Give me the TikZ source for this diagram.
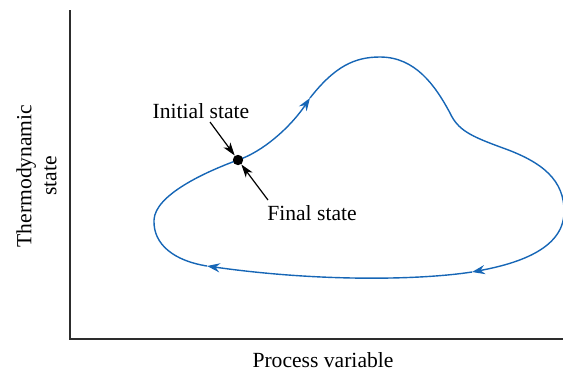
\documentclass[tikz,border=0pt]{standalone}
\usepackage{fontspec}
\setmainfont{Liberation Serif}
\usetikzlibrary{arrows.meta}
\definecolor{curveblue}{RGB}{22,102,182}
\definecolor{axisgray}{RGB}{45,45,45}
\tikzset{
  lbl/.style={inner sep=0pt, font=\fontsize{10.8}{12.5}\selectfont},
  cyc/.style={curveblue, line width=0.7pt, -{Stealth[length=6.5pt,width=4.6pt,inset=2.2pt]}},
  cycplain/.style={curveblue, line width=0.7pt},
  pointer/.style={black, line width=0.6pt, -{Stealth[length=6.5pt,width=4.2pt,inset=1.8pt]}},
  axis/.style={axisgray, line width=0.9pt}
}
\begin{document}
\begin{tikzpicture}[x=0.5pt,y=-0.5pt]
\useasboundingbox (0,0) rectangle (563,371);
% axes
\coordinate (ytop) at (70,10);
\coordinate (orig) at (70,339);
\coordinate (xend) at (563,339);
\draw[axis] (ytop) -- (orig) -- (xend);
% labels
\node[lbl, anchor=base] (xl) at (323,367.5) {Process variable};
\node[lbl, rotate=90, align=center] (yl) at (36.5,176) {Thermodynamic\\state};
% cycle
\coordinate (s0) at (238,160);
\coordinate (t1) at (310,98);
\coordinate (t2) at (472,272);
\coordinate (t3) at (207,266);
\draw[cyc] (s0) .. controls (262,152) and (290,128) .. (t1);
\draw[cyc] (t1) .. controls (335,66) and (355,57) .. (380,57)
  .. controls (415,57) and (435,85) .. (450,113)
  .. controls (458,130) and (470,136) .. (503,148)
  .. controls (542,162) and (565,180) .. (564,213)
  .. controls (563,250) and (515,264) .. (t2);
\draw[cyc] (t2) .. controls (420,280) and (320,282) .. (t3);
\draw[cycplain] (t3) .. controls (175,261) and (153,245) .. (154,220)
  .. controls (155,195) and (205,172) .. (s0);
% state point
\node[circle, fill=black, inner sep=0pt, minimum size=5.2pt] (s) at (238,160) {};
\node[lbl] (ini) at (201,111) {Initial state};
\node[lbl] (fin) at (312,213) {Final state};
\coordinate (ta) at (210,122);
\coordinate (tb) at (268,200);
\draw[pointer] (ta) -- (s);
\draw[pointer] (tb) -- (s);
\end{tikzpicture}
\end{document}
